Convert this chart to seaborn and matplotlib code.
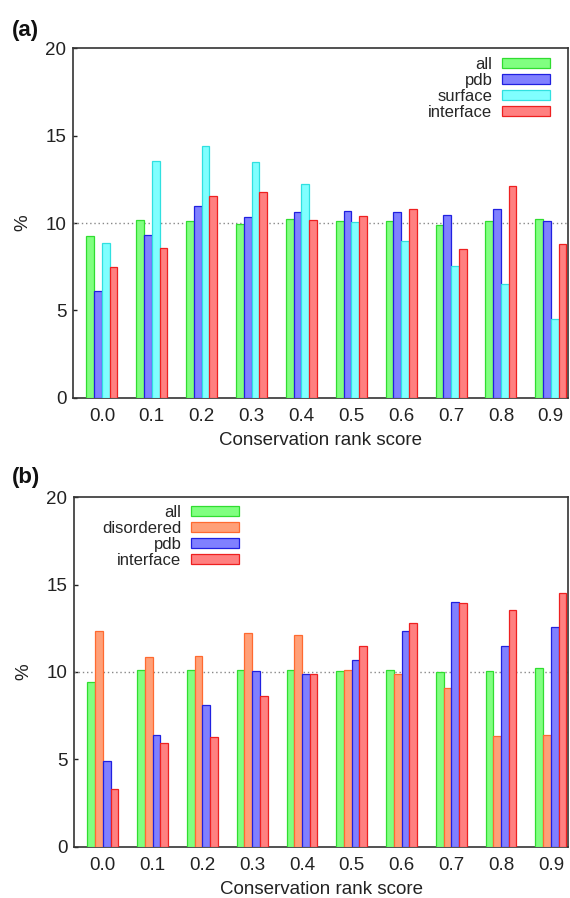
import numpy as np
import pandas as pd
import matplotlib
matplotlib.use("Agg")
import matplotlib.pyplot as plt
from matplotlib.patches import Patch
import seaborn as sns

# Conservation rank score bins (shared by both panels)
scores = ["0.0", "0.1", "0.2", "0.3", "0.4", "0.5", "0.6", "0.7", "0.8", "0.9"]

# Panel (a): residue classes
a_all = [9.28, 10.15, 10.13, 9.94, 10.21, 10.10, 10.13, 9.90, 10.11, 10.21]
a_pdb = [6.13, 9.31, 10.97, 10.36, 10.65, 10.69, 10.65, 10.44, 10.80, 10.11]
a_surface = [8.88, 13.56, 14.42, 13.52, 12.23, 10.08, 8.99, 7.56, 6.48, 4.51]
a_interface = [7.50, 8.57, 11.52, 11.77, 10.19, 10.40, 10.80, 8.50, 12.10, 8.80]

# Panel (b): residue classes
b_all = [9.44, 10.12, 10.10, 10.09, 10.14, 10.07, 10.09, 10.01, 10.03, 10.22]
b_disordered = [12.37, 10.83, 10.94, 12.26, 12.14, 10.14, 9.88, 9.09, 6.35, 6.39]
b_pdb = [4.88, 6.41, 8.10, 10.03, 9.86, 10.66, 12.32, 13.99, 11.50, 12.60]
b_interface = [3.30, 5.91, 6.27, 8.64, 9.90, 11.50, 12.81, 13.94, 13.56, 14.53]

# face / edge colours per class
faces = {"all": "#80ff80", "pdb": "#8080ff", "surface": "#80ffff",
         "interface": "#ff8080", "disordered": "#ffa078"}
edges = {"all": "#30dd30", "pdb": "#2020e0", "surface": "#30e0e0",
         "interface": "#ee2020", "disordered": "#ff6a30"}

sns.set_theme(style="white")
plt.rcParams["font.family"] = ["Liberation Sans", "DejaVu Sans"]

W, H = 570, 898
fig = plt.figure(figsize=(W / 100, H / 100), dpi=100)


def panel(rect, series, tag, tag_y, leg_anchor):
    ax = fig.add_axes(rect)
    names = list(series.keys())
    df = pd.DataFrame({
        "score": np.tile(scores, len(names)),
        "cls": np.repeat(names, len(scores)),
        "pct": np.concatenate([series[n] for n in names]),
    })
    sns.barplot(data=df, x="score", y="pct", hue="cls", hue_order=names,
                order=scores, palette=[faces[n] for n in names],
                saturation=1, width=0.62, gap=0, errorbar=None,
                legend=False, ax=ax, zorder=3)
    for cont, n in zip(ax.containers, names):
        for bar in cont:
            bar.set_edgecolor(edges[n])
            bar.set_linewidth(0.9)
    ax.axhline(10, color="#888888", lw=1.0, ls=(0, (1, 2)), zorder=1)
    ax.set_xlim(-0.58, 9.345)
    ax.set_ylim(0, 20)
    ax.set_yticks([0, 5, 10, 15, 20])
    ax.tick_params(axis="y", direction="in", length=3, width=1,
                   pad=4.8, labelsize=13.5, left=True, colors="#222222")
    ax.tick_params(axis="x", length=0, pad=7.5, labelsize=13.5)
    for lab in ax.get_yticklabels() + ax.get_xticklabels():
        lab.set_color("#222222")
    for s in ax.spines.values():
        s.set_color("#333333")
        s.set_linewidth(1.2)
    ax.set_xlabel("Conservation rank score", fontsize=13.5, color="#222222",
                  labelpad=5)
    ax.set_ylabel("%", fontsize=13.5, color="#222222")
    ax.yaxis.set_label_coords(-0.085, 0.5)
    handles = [Patch(facecolor=faces[n], edgecolor=edges[n], lw=0.9)
               for n in names]
    ax.legend(handles, names, loc="upper right", bbox_to_anchor=leg_anchor,
              frameon=False, markerfirst=False, fontsize=12,
              handlelength=2.85, handleheight=0.5, handletextpad=0.6,
              labelspacing=0.06, borderpad=0, borderaxespad=0)
    fig.text(12 / W, 1 - tag_y / H, tag, fontsize=16, fontweight="bold",
             va="baseline", ha="left", color="#111111")
    return ax


panel([73 / W, 1 - 397.7 / H, 495 / W, 349.4 / H],
      {"all": a_all, "pdb": a_pdb, "surface": a_surface,
       "interface": a_interface},
      "(a)", 36, (0.9636, 0.976))
panel([74 / W, 1 - 846.7 / H, 494 / W, 349.4 / H],
      {"all": b_all, "disordered": b_disordered, "pdb": b_pdb,
       "interface": b_interface},
      "(b)", 483, (0.334, 0.978))

fig.savefig("out.png", dpi=100)
